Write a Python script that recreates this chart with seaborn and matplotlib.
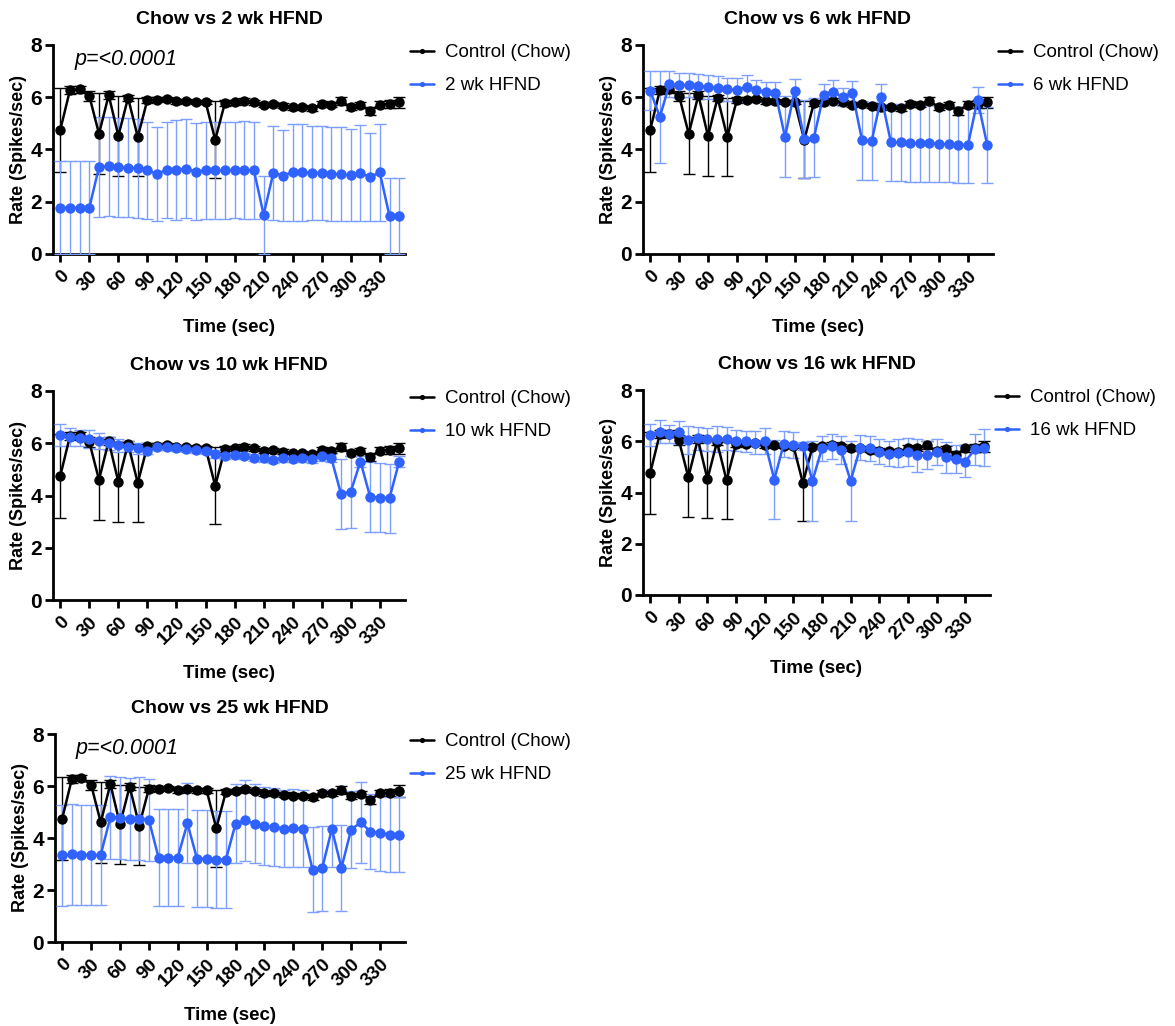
import matplotlib
matplotlib.use("Agg")
import matplotlib.pyplot as plt
import seaborn as sns
import pandas as pd
import numpy as np

# ===============================
# DATA
# ===============================
time_sec = list(range(0, 360, 10))
x_ticks = [0, 30, 60, 90, 120, 150, 180, 210, 240, 270, 300, 330]

chow_mean = [4.75, 6.27, 6.30, 6.05, 4.60, 6.08, 4.52, 5.98, 4.48, 5.90,
             5.90, 5.92, 5.85, 5.87, 5.83, 5.83, 4.37, 5.78, 5.80, 5.87,
             5.80, 5.72, 5.75, 5.67, 5.62, 5.63, 5.58, 5.73, 5.72, 5.85,
             5.62, 5.70, 5.47, 5.72, 5.75, 5.80]
chow_err = [1.60, 0.15, 0.12, 0.20, 1.55, 0.15, 1.52, 0.12, 1.50, 0.12,
            0.10, 0.08, 0.10, 0.08, 0.08, 0.08, 1.47, 0.10, 0.08, 0.10,
            0.08, 0.10, 0.08, 0.10, 0.10, 0.08, 0.10, 0.12, 0.10, 0.15,
            0.12, 0.12, 0.15, 0.12, 0.15, 0.22]

wk2_mean = [1.77, 1.77, 1.77, 1.77, 3.33, 3.35, 3.32, 3.30, 3.28, 3.20,
            3.07, 3.22, 3.22, 3.27, 3.15, 3.20, 3.20, 3.20, 3.22, 3.22,
            3.20, 1.50, 3.10, 3.00, 3.13, 3.12, 3.10, 3.10, 3.07, 3.05,
            3.02, 3.10, 2.95, 3.12, 1.45, 1.45]
wk2_err = [1.78, 1.78, 1.78, 1.78, 1.90, 1.90, 1.90, 1.90, 1.90, 1.85,
           1.80, 1.85, 1.90, 1.90, 1.85, 1.85, 1.85, 1.85, 1.85, 1.87,
           1.85, 1.50, 1.80, 1.75, 1.85, 1.85, 1.80, 1.80, 1.80, 1.80,
           1.75, 1.85, 1.70, 1.85, 1.45, 1.45]

wk6_mean = [6.25, 5.25, 6.50, 6.45, 6.47, 6.43, 6.40, 6.35, 6.30, 6.28,
            6.40, 6.27, 6.20, 6.17, 4.48, 6.25, 4.40, 4.45, 6.10, 6.22,
            6.00, 6.17, 4.35, 4.32, 6.02, 4.27, 4.27, 4.23, 4.23, 4.23,
            4.22, 4.20, 4.17, 4.18, 5.90, 4.17]
wk6_err = [0.75, 1.75, 0.50, 0.47, 0.45, 0.45, 0.45, 0.45, 0.45, 0.45,
           0.45, 0.40, 0.40, 0.40, 1.55, 0.45, 1.50, 1.52, 0.40, 0.45,
           0.35, 0.45, 1.50, 1.50, 0.47, 1.47, 1.47, 1.47, 1.47, 1.47,
           1.46, 1.46, 1.45, 1.45, 0.50, 1.45]

wk10_mean = [6.32, 6.25, 6.20, 6.15, 6.08, 6.00, 5.93, 5.87, 5.80, 5.72,
             5.85, 5.87, 5.82, 5.78, 5.75, 5.70, 5.60, 5.50, 5.55, 5.50,
             5.45, 5.42, 5.37, 5.42, 5.40, 5.42, 5.38, 5.52, 5.42, 4.05,
             4.15, 5.30, 3.95, 3.92, 3.90, 5.30]
wk10_err = [0.42, 0.35, 0.30, 0.35, 0.30, 0.25, 0.25, 0.20, 0.20, 0.15,
            0.12, 0.12, 0.12, 0.12, 0.12, 0.12, 0.15, 0.12, 0.12, 0.12,
            0.12, 0.12, 0.12, 0.12, 0.12, 0.12, 0.12, 0.20, 0.15, 1.35,
            1.38, 0.20, 1.33, 1.33, 1.32, 0.20]

wk16_mean = [6.25, 6.38, 6.30, 6.35, 6.05, 6.12, 6.08, 6.08, 6.10, 6.02,
             6.00, 5.95, 6.00, 4.50, 5.90, 5.85, 5.82, 4.45, 5.72, 5.80,
             5.65, 4.45, 5.75, 5.72, 5.60, 5.52, 5.55, 5.58, 5.45, 5.47,
             5.58, 5.38, 5.32, 5.20, 5.68, 5.75]
wk16_err = [0.42, 0.45, 0.35, 0.45, 0.55, 0.45, 0.45, 0.50, 0.45, 0.40,
            0.40, 0.45, 0.50, 1.55, 0.50, 0.50, 0.15, 1.55, 0.50, 0.50,
            0.55, 1.55, 0.50, 0.50, 0.50, 0.50, 0.55, 0.55, 0.65, 0.55,
            0.50, 0.60, 0.55, 0.60, 0.60, 0.72]

wk25_mean = [3.33, 3.37, 3.35, 3.35, 3.35, 4.80, 4.78, 4.72, 4.75, 4.70,
             3.25, 3.25, 3.25, 4.57, 3.20, 3.20, 3.17, 3.17, 4.55, 4.68,
             4.55, 4.45, 4.43, 4.35, 4.40, 4.35, 2.78, 2.83, 4.35, 2.85,
             4.32, 4.60, 4.25, 4.20, 4.13, 4.13]
wk25_err = [1.93, 1.95, 1.93, 1.93, 1.93, 1.60, 1.58, 1.58, 1.60, 1.58,
            1.88, 1.88, 1.88, 1.55, 1.87, 1.87, 1.85, 1.85, 1.53, 1.57,
            1.52, 1.50, 1.50, 1.48, 1.50, 1.48, 1.63, 1.65, 1.48, 1.65,
            1.47, 1.55, 1.45, 1.45, 1.43, 1.43]

groups = ["2 wk HFND", "6 wk HFND", "10 wk HFND", "16 wk HFND", "25 wk HFND"]
group_mean = [wk2_mean, wk6_mean, wk10_mean, wk16_mean, wk25_mean]
group_err = [wk2_err, wk6_err, wk10_err, wk16_err, wk25_err]
show_p = [True, False, False, False, True]

# ===============================
# STYLE
# ===============================
sns.set_style("ticks")
plt.rcParams["font.family"] = ["Liberation Sans", "DejaVu Sans"]
plt.rcParams.update({
    "text.color": "black",
    "axes.labelcolor": "black",
    "axes.edgecolor": "black",
    "xtick.color": "black",
    "ytick.color": "black",
})

BLACK = "#000000"
BLUE = "#2f62ff"
BLUE_ERR = "#7f9fff"

# axes boxes in pixels: (left, top, right, bottom)
boxes = [
    (53, 45, 405, 254),
    (643, 45, 993, 254),
    (53, 391, 405, 600),
    (643, 390, 990, 595),
    (55, 734, 405, 942),
]

W, H = 1175, 1026
fig = plt.figure(figsize=(W / 100, H / 100), dpi=100)

for i, grp in enumerate(groups):
    l, t, r, b = boxes[i]
    ax = fig.add_axes([l / W, 1 - b / H, (r - l) / W, (b - t) / H])

    df = pd.DataFrame({
        "Time": time_sec * 2,
        "Rate": chow_mean + group_mean[i],
        "Group": ["Control (Chow)"] * len(time_sec) + [grp] * len(time_sec),
    })

    # error bars
    ax.errorbar(time_sec, chow_mean, yerr=chow_err, fmt="none",
                ecolor=BLACK, elinewidth=1.0, capsize=4, capthick=1.0, zorder=2)
    ax.errorbar(time_sec, group_mean[i], yerr=group_err[i], fmt="none",
                ecolor=BLUE_ERR, elinewidth=1.0, capsize=4, capthick=1.0, zorder=3)

    sns.lineplot(data=df, x="Time", y="Rate", hue="Group",
                 palette={"Control (Chow)": BLACK, grp: BLUE},
                 marker="o", markersize=7.5, markeredgewidth=0,
                 linewidth=1.8, ax=ax, zorder=4, errorbar=None)
    for ln in ax.get_lines():
        if ln.get_color() == BLUE:
            ln.set_zorder(5)

    ax.set_xlim(-7.5, 356)
    ax.set_ylim(0, 8)
    ax.set_yticks([0, 2, 4, 6, 8])
    ax.set_xticks(x_ticks)
    ax.set_xticklabels([str(v) for v in x_ticks], rotation=45, ha="right",
                       rotation_mode="anchor", fontsize=13.5, fontweight="bold")
    ax.set_yticklabels(["0", "2", "4", "6", "8"], fontsize=15, fontweight="bold")
    ax.tick_params(axis="both", direction="out", length=6, width=2, pad=2)
    ax.tick_params(axis="x", pad=4)
    for s in ["left", "bottom"]:
        ax.spines[s].set_linewidth(2)
    sns.despine(ax=ax)

    ax.set_xlabel("Time (sec)", fontsize=13.5, fontweight="bold", labelpad=12)
    ax.set_ylabel("Rate (Spikes/sec)", fontsize=13, fontweight="bold", labelpad=2)
    ax.set_title("Chow vs " + grp, fontsize=14, fontweight="bold", pad=15)

    if show_p[i]:
        ax.text(0.06, 0.93, "p=<0.0001", transform=ax.transAxes,
                fontsize=15.5, fontstyle="italic", va="center")

    ax.legend(loc="upper left", bbox_to_anchor=((r + 5) / W, 1 - (t - 1) / H),
              bbox_transform=fig.transFigure, frameon=False,
              fontsize=13.5, handlelength=1.3, markerscale=0.5,
              labelspacing=0.85, handletextpad=0.55,
              borderpad=0, borderaxespad=0)

fig.savefig("out.png", dpi=100)
